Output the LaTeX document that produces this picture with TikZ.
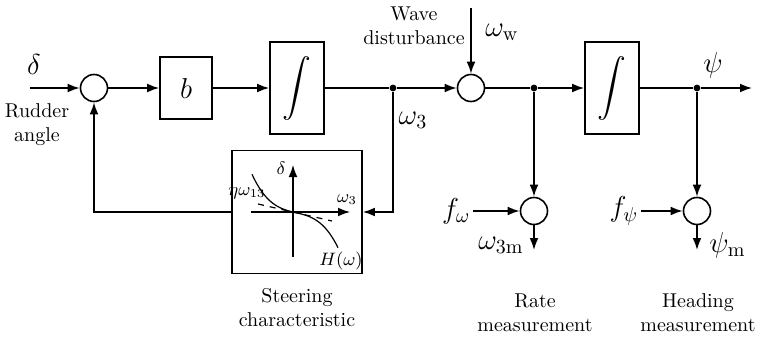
\documentclass[tikz,border=0pt]{standalone}
\usepackage{amsmath,amssymb}
\usetikzlibrary{arrows.meta}

\begin{document}
\begin{tikzpicture}[x=0.5pt, y=-0.5pt, >={Latex[length=6pt,width=4.4pt]}, thick,
  sumnode/.style={circle, draw, minimum size=13.5pt, inner sep=0pt},
  blk/.style={draw, inner sep=0pt},
  intblk/.style={blk, minimum width=27pt, minimum height=46pt, font=\Large},
  junc/.style={circle, fill, minimum size=3.4pt, inner sep=0pt},
  sig/.style={font=\Large},
  small/.style={font=\small, inner sep=1pt}]
  \useasboundingbox (0,0) rectangle (757,337);

  % forward path
  \coordinate (in) at (30,88);
  \node[sumnode] (s1) at (94,88) {};
  \node[blk, minimum width=26pt, minimum height=31pt, sig] (gain) at (186,88) {$b$};
  \node[intblk] (int1) at (297,88) {$\displaystyle\int$};
  \node[junc] (d1) at (393,88) {};
  \node[sumnode] (s2) at (471,88) {};
  \node[junc] (d2) at (534,88) {};
  \node[intblk] (int2) at (612,88) {$\displaystyle\int$};
  \node[junc] (d3) at (697,88) {};
  \coordinate (out) at (752,88);
  \draw[->] (in) -- (s1);
  \draw[->] (s1) -- (gain);
  \draw[->] (gain) -- (int1);
  \draw (int1) -- (d1);
  \draw[->] (d1) -- (s2);
  \draw (s2) -- (d2);
  \draw[->] (d2) -- (int2);
  \draw (int2) -- (d3);
  \draw[->] (d3) -- (out);

  \node[sig] (delta) at (34,65) {$\delta$};
  \node[align=center] (rudder) at (37,125) {Rudder\\angle};
  \node[sig] (w3) at (413,120) {$\omega_3$};
  \node[sig] (psi) at (713,65) {$\psi$};

  % wave disturbance
  \coordinate (wave) at (471,8);
  \draw[->] (wave) -- (s2);
  \node[align=center] (wavetxt) at (414,26) {Wave\\disturbance};
  \node[sig] (ww) at (502,32) {$\omega_{\mathrm{w}}$};

  % steering characteristic
  \node[blk, minimum width=65pt, minimum height=61.5pt] (steer) at (297,212) {};
  \draw[->] (d1) |- (steer.east);
  \draw[->] (steer.west) -| (s1.south);
  \draw[semithick, ->] (293,257) -- (293,165);
  \draw[semithick, ->] (251,212) -- (350,212);
  \draw[semithick, dashed] (258,204) -- (332,221);
  \draw[semithick] plot[domain=-41:45, samples=50, smooth]
    ({293+\x}, {212+0.24*(\x)-0.0028*(\x)*(\x)+0.00034*(\x)*(\x)*(\x)});
  \node[small] (dl) at (281,168) {$\delta$};
  \node[small] (wl) at (347,200) {$\omega_3$};
  \node[small] (eta) at (247,193) {$\eta\omega_{13}$};
  \node[small] (hl) at (341,261) {$H(\omega)$};
  \node[align=center] (steertxt) at (297,308) {Steering\\characteristic};

  % measurements
  \node[sumnode] (s3) at (534,211) {};
  \node[sumnode] (s4) at (697,211) {};
  \draw[->] (d2) -- (s3);
  \draw[->] (d3) -- (s4);
  \node[sig, anchor=east, inner sep=1pt] (fw) at (473,211) {$f_\omega$};
  \node[sig, anchor=east, inner sep=1pt] (fp) at (641,211) {$f_\psi$};
  \draw[->] (fw) -- (s3);
  \draw[->] (fp) -- (s4);
  \coordinate (m3) at (534,250);
  \coordinate (m4) at (697,250);
  \draw[->] (s3) -- (m3);
  \draw[->] (s4) -- (m4);
  \node[sig, anchor=east] (w3m) at (531,245) {$\omega_{\mathrm{3m}}$};
  \node[sig, anchor=west] (psim) at (702,245) {$\psi_{\mathrm{m}}$};
  \node[align=center] (ratetxt) at (535,313) {Rate\\measurement};
  \node[align=center] (headtxt) at (698,313) {Heading\\measurement};
\end{tikzpicture}
\end{document}
